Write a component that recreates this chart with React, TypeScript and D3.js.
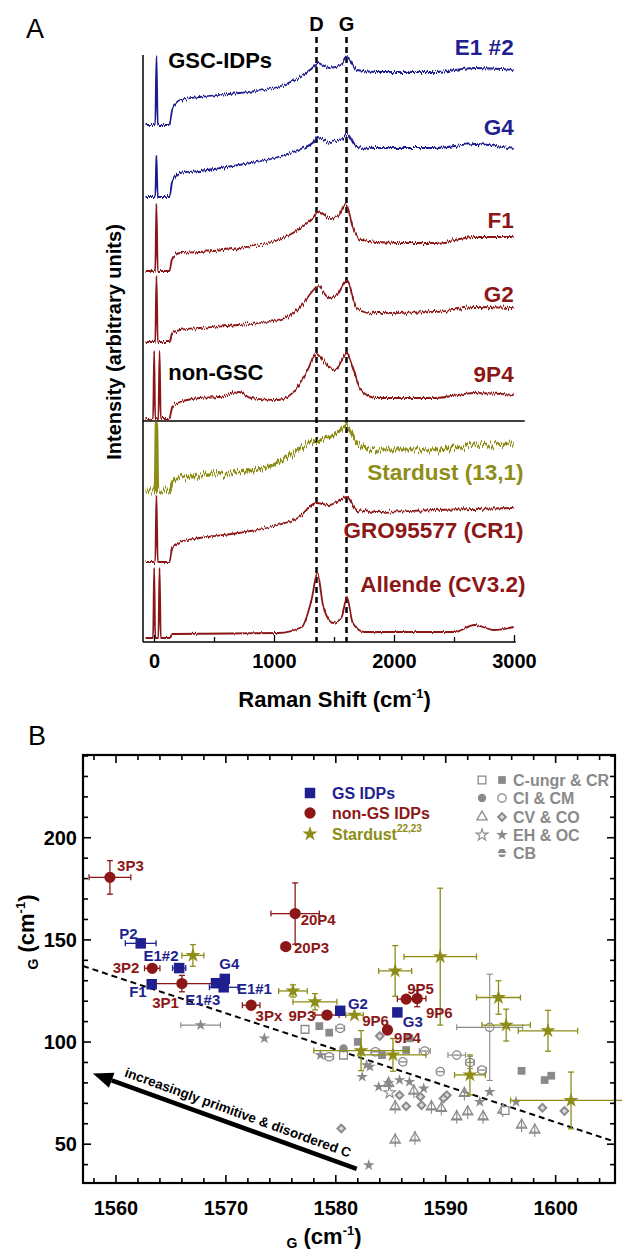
import React from "react";
import * as d3 from "d3";

const BLUE = "#1f1f8f";
const RED = "#8c1717";
const OLIVE = "#8d8d17";
const GRAY = "#8a8a8a";
const FONT = "'Liberation Sans', Arial, Helvetica, sans-serif";

// ---------- panel A: Raman spectra, [shift cm-1, intensity above own baseline] ----------
const specE1n2 = [[-75,0],[6,0],[16,69],[27,0],[125,0],[147,15],[213,25],[376,28],[703,32],[1030,38],[1194,47],[1325,58],[1358,62],[1456,57],[1554,60],[1603,68],[1685,55],[1848,53],[2339,53],[2666,57],[2993,55]];
const specG4 = [[-75,0],[6,0],[16,41],[27,0],[125,0],[147,15],[213,24],[376,26],[703,32],[1030,40],[1194,47],[1325,55],[1358,60],[1456,55],[1554,57],[1603,63],[1685,50],[1848,49],[2339,49],[2666,53],[2993,48]];
const specF1 = [[-75,0],[6,0],[16,67],[27,0],[125,0],[147,13],[213,18],[376,19],[703,23],[1030,31],[1194,41],[1325,54],[1358,59],[1456,53],[1521,54],[1595,67],[1652,44],[1717,31],[2012,28],[2339,28],[2666,34],[2993,34]];
const specG2 = [[-75,0],[6,0],[16,66],[27,0],[125,0],[147,9],[213,12],[376,14],[703,17],[1030,22],[1194,32],[1325,52],[1358,56],[1456,44],[1521,47],[1603,61],[1685,34],[1848,29],[2339,30],[2666,35],[2993,34]];
const spec9P4 = [[-75,0],[-12,0],[-3,67],[6,0],[32,0],[42,67],[52,0],[125,0],[147,12],[213,17],[376,21],[540,22],[703,27],[801,21],[1030,19],[1194,32],[1276,49],[1348,66],[1423,56],[1505,49],[1603,66],[1652,52],[1717,29],[1848,21],[2339,21],[2666,26],[2993,24]];
const specStardust = [[-75,0],[6,0],[16,69],[27,0],[125,0],[147,8],[213,13],[376,16],[703,19],[1030,28],[1194,41],[1358,51],[1521,58],[1595,66],[1685,48],[1848,41],[2339,41],[2666,46],[2993,48]];
const specGRO = [[-75,0],[6,0],[16,67],[27,0],[125,0],[147,14],[213,20],[376,24],[703,29],[1030,37],[1194,44],[1348,59],[1456,57],[1603,65],[1685,52],[1848,50],[2339,52],[2993,54]];
const specAllende = [[-75,0],[-12,0],[-3,70],[6,0],[32,0],[42,70],[52,0],[125,0],[147,4],[1030,5],[1227,11],[1308,38],[1358,65],[1407,31],[1488,15],[1560,21],[1603,41],[1652,15],[1750,6],[2502,6],[2666,13],[2830,8],[2993,11]];

const spectra = [specE1n2, specG4, specF1, specG2, spec9P4, specStardust, specGRO, specAllende];
const specNames = ["E1 #2", "G4", "F1", "G2", "9P4", "Stardust (13,1)", "GRO95577 (CR1)", "Allende (CV3.2)"];
const specOffsets = [517, 445, 371, 300, 223, 151, 80, 4];
const specLabelLevels = [587, 507, 414, 340, 260, 162, 104, 50];
const specLabelShift = [2993, 2993, 2993, 2993, 2993, 3075, 3075, 3091];
const specColors = [BLUE, BLUE, RED, RED, RED, OLIVE, RED, RED];
const specNoise = ["n", "n", "n", "n", "n", "big", "n", "small"];

const shiftTickLabels = [0, 1000, 2000, 3000];
const shiftMinorTicks = [500, 1500, 2500];
const bandNames = ["D", "G"];
const bandPositions = [1350, 1600];

// ---------- panel B: peak parameters [G position, G width] ----------
const gsIdps = [
  { id: "P2", g: 1562.25, w: 148.3, xe: 1.4, ye: 0 },
  { id: "E1#2", g: 1565.75, w: 136.2, xe: 0.6, ye: 0 },
  { id: "F1", g: 1563.25, w: 128.3, xe: 0, ye: 0 },
  { id: "E1#3", g: 1569.1, w: 128.8, xe: 0, ye: 0 },
  { id: "G4", g: 1569.9, w: 130.9, xe: 0, ye: 0 },
  { id: "E1#1", g: 1569.8, w: 126.8, xe: 1.3, ye: 0 },
  { id: "G2", g: 1580.4, w: 115.3, xe: 0, ye: 0 },
  { id: "G3", g: 1585.6, w: 114.5, xe: 0, ye: 0 },
];
const nonGsIdps = [
  { id: "3P3", g: 1559.45, w: 180.6, xe: 1.9, ye: 8.2 },
  { id: "3P2", g: 1563.3, w: 136.1, xe: 0.7, ye: 0 },
  { id: "3P1", g: 1566.0, w: 128.6, xe: 2.95, ye: 4 },
  { id: "3Px", g: 1572.3, w: 118.0, xe: 0.8, ye: 0 },
  { id: "9P3", g: 1579.2, w: 113.2, xe: 1.1, ye: 0 },
  { id: "20P4", g: 1576.3, w: 162.9, xe: 2.2, ye: 15 },
  { id: "20P3", g: 1575.45, w: 146.7, xe: 0.4, ye: 0 },
  { id: "9P5", g: 1586.4, w: 121.0, xe: 0.8, ye: 0 },
  { id: "9P6", g: 1587.4, w: 121.3, xe: 0.8, ye: 4 },
  { id: "9P4", g: 1584.7, w: 105.9, xe: 0.3, ye: 0 },
];
const stardust = [
  { g: 1567.0, w: 142.4, xe: 1.0, ye: 5.3 },
  { g: 1576.1, w: 125.0, xe: 1.3, ye: 3 },
  { g: 1578.1, w: 119.7, xe: 2.0, ye: 4 },
  { g: 1581.7, w: 113.2, xe: 0.8, ye: 0 },
  { g: 1585.4, w: 134.8, xe: 1.5, ye: 12.4 },
  { g: 1589.5, w: 141.8, xe: 3.3, ye: 33.5 },
  { g: 1582.3, w: 95.8, xe: 4.3, ye: 9.8 },
  { g: 1585.2, w: 93.7, xe: 3.0, ye: 8 },
  { g: 1594.8, w: 121.8, xe: 2.0, ye: 8.2 },
  { g: 1595.5, w: 108.3, xe: 2.2, ye: 7.8 },
  { g: 1599.3, w: 105.5, xe: 2.7, ye: 10 },
  { g: 1592.2, w: 83.9, xe: 1.4, ye: 9.8 },
  { g: 1601.4, w: 71.4, xe: 5.5, ye: 13.9 },
];
// point labels: [text, G, width] at the text's left baseline
const gsLabels = [["P2", 1560.3, 150.2], ["E1#2", 1562.5, 139.5], ["F1", 1561.2, 122.0], ["E1#3", 1566.3, 118.0], ["G4", 1569.4, 135.6], ["E1#1", 1571.0, 123.5], ["G2", 1581.1, 116.0], ["G3", 1586.1, 107.3]];
const nonGsLabels = [["3P3", 1560.1, 183.9], ["3P2", 1559.7, 133.7], ["3P1", 1563.3, 116.6], ["3Px", 1572.7, 110.3], ["9P3", 1575.7, 110.3], ["20P4", 1576.8, 157.1], ["20P3", 1576.2, 143.4], ["9P5", 1586.5, 123.5], ["9P6", 1588.2, 111.7], ["9P6", 1582.4, 107.8], ["9P4", 1585.3, 99.5]];

// meteorite literature data (grey)
const crFilled = [[1578.5,107.8],[1579.4,104.6],[1586.7,101.8],[1586.4,96.1],[1582.0,100.1],[1584.2,93.6],[1596.9,85.9],[1599.0,81.4],[1599.6,83.5]];
const cUngrOpen = [[1577.2,106.2],[1580.7,93.6],[1595.4,66.5]];
const ciFilled = [[1580.7,96.9]];
const cmOpen = [[1580.4,106.7,0.4,0],[1588.1,95.6,0.5,0],[1591.0,93.6,0.8,0],[1592.2,90.0,0.4,3],[1593.3,86.3,0.4,0],[1589.5,85.5,0.3,0],[1579.4,92.8,0.4,0],[1583.6,95.2,0.4,0],[1586.1,90.3,0.3,0],[1594.0,107.2,3.0,26]];
const cvOpen = [[1584.8,79.7],[1585.4,68.3],[1588.7,68.3],[1589.6,67.5],[1591.0,63.4],[1592.0,65.8],[1593.4,63.4],[1591.7,74.8],[1595.2,66.7],[1596.9,59.3],[1598.1,56.9],[1585.4,52.0],[1587.2,53.1],[1587.1,76.0]];
const coHalf = [[1584.0,102.9],[1585.8,74.0],[1587.7,73.2],[1586.4,68.6],[1590.1,74.0],[1589.8,72.4],[1587.8,69.1],[1598.8,67.8],[1600.8,66.2],[1580.5,57.7]];
const ocFilled = [[1567.7,108.3,1.8],[1573.5,101.8,0],[1578.6,93.6,0],[1583.1,88.0,0],[1582.4,83.0,0],[1583.9,78.1,0],[1584.8,80.0,0],[1585.8,81.4,0],[1586.7,80.5,0],[1588.0,77.3,0],[1594.0,75.6,0],[1593.1,70.7,0],[1596.4,70.7,0],[1583.0,39.7,0],[1582.8,88.7,0]];
const ehOpen = [[1584.9,75.2]];

const trendLine = [[1557, 137.2], [1605.4, 51.2]];
const arrowHead = [1557.9, 84.6];
const arrowTail = [1581.9, 37.9];

const gTicks = [1560, 1570, 1580, 1590, 1600];
const wTicks = [50, 100, 150, 200];
const legendIdp = ["GS IDPs", "non-GS IDPs", "Stardust"];
const legendMet = ["C-ungr & CR", "CI & CM", "CV & CO", "EH & OC", "CB"];

const sym = (type: d3.SymbolType, size: number) => d3.symbol().type(type).size(size)() as string;

export default function App() {
  const xA = d3.scaleLinear().domain([-96, 3100]).range([143, 526.5]);
  const yA = d3.scaleLinear().domain([0, 587]).range([642, 55]);
  const xB = d3.scaleLinear().domain([1557, 1605.4]).range([83, 615]);
  const yB = d3.scaleLinear().domain([31, 240.5]).range([1183, 755]);

  const sq = sym(d3.symbolSquare, 110);
  const circ = sym(d3.symbolCircle, 100);
  const star = sym(d3.symbolStar, 70);
  const gSq = sym(d3.symbolSquare, 60);
  const gCirc = sym(d3.symbolCircle, 55);
  const gStar = sym(d3.symbolStar, 42);
  const gTri = sym(d3.symbolTriangle, 45);
  const gDia = sym(d3.symbolSquare, 55);
  const gDiaIn = sym(d3.symbolSquare, 12);

  const errBars = (g: number, w: number, xe: number, ye: number, color: string, key: string, sw = 1.3) => {
    const cx = xB(g), cy = yB(w);
    const out: React.ReactNode[] = [];
    if (xe > 0) {
      const x1 = xB(g - xe), x2 = xB(g + xe);
      out.push(<line key={key + "h"} x1={x1} x2={x2} y1={cy} y2={cy} stroke={color} strokeWidth={sw} />);
      out.push(<line key={key + "hl"} x1={x1} x2={x1} y1={cy - 3} y2={cy + 3} stroke={color} strokeWidth={sw} />);
      out.push(<line key={key + "hr"} x1={x2} x2={x2} y1={cy - 3} y2={cy + 3} stroke={color} strokeWidth={sw} />);
    }
    if (ye > 0) {
      const y1 = yB(w + ye), y2 = yB(w - ye);
      out.push(<line key={key + "v"} x1={cx} x2={cx} y1={y1} y2={y2} stroke={color} strokeWidth={sw} />);
      out.push(<line key={key + "vt"} x1={cx - 3} x2={cx + 3} y1={y1} y2={y1} stroke={color} strokeWidth={sw} />);
      out.push(<line key={key + "vb"} x1={cx - 3} x2={cx + 3} y1={y2} y2={y2} stroke={color} strokeWidth={sw} />);
    }
    return out;
  };

  // arrow geometry
  const hx = xB(arrowHead[0]), hy = yB(arrowHead[1]);
  const tx = xB(arrowTail[0]), ty = yB(arrowTail[1]);
  const len = Math.hypot(tx - hx, ty - hy);
  const ux = (tx - hx) / len, uy = (ty - hy) / len;
  const bx = hx + ux * 20, by = hy + uy * 20;
  const headPath = `M${hx},${hy}L${bx - uy * 8},${by + ux * 8}L${bx + uy * 8},${by - ux * 8}Z`;
  const ang = (Math.atan2(ty - hy, tx - hx) * 180) / Math.PI;
  const txtX = hx + ux * 30 + uy * 8, txtY = hy + uy * 30 - ux * 8;

  const xTicksMinor = d3.range(1558, 1606, 2);
  const yTicksMinor = d3.range(40, 241, 10);

  const hexPath = (d3.line()(d3.range(6).map((i) => [6 * Math.cos((Math.PI / 3) * i), 6 * Math.sin((Math.PI / 3) * i)] as [number, number])) || "") + "Z";

  const noiseFilter = (id: string, scale: number, seed: number) => (
    <filter id={id} filterUnits="userSpaceOnUse" x={0} y={0} width={622} height={720}>
      <feTurbulence type="fractalNoise" baseFrequency="0.9 0.03" numOctaves={2} seed={seed} result="t" />
      <feColorMatrix in="t" type="matrix" values="0 0 0 0 0.5  0 1 0 0 0  0 0 0 0 0  0 0 0 0 1" result="m" />
      <feDisplacementMap in="SourceGraphic" in2="m" scale={scale} xChannelSelector="R" yChannelSelector="G" />
    </filter>
  );

  return (
    <div style={{ position: "absolute", left: 0, top: 0 }}>
      <svg width={622} height={1251} style={{ display: "block" }} fontFamily={FONT}>
        <defs>
          {noiseFilter("n", 6, 2)}
          {noiseFilter("big", 14, 5)}
          {noiseFilter("small", 3, 7)}
        </defs>
        <rect width={622} height={1251} fill="#fff" />
        {/* ---------------- Panel A ---------------- */}
        <text x={26} y={38} fontSize={27}>A</text>
        {bandPositions.map((b, i) => (
          <g key={"band" + i}>
            <line x1={xA(b)} x2={xA(b)} y1={37} y2={yA(0)} stroke="#000" strokeWidth={2.5} strokeDasharray="6,4" />
            <text x={xA(b)} y={31} textAnchor="middle" fontSize={20} fontWeight="bold">{bandNames[i]}</text>
          </g>
        ))}
        <line x1={xA(-96)} x2={xA(-96)} y1={yA(587)} y2={yA(0)} stroke="#000" strokeWidth={1.5} />
        <line x1={xA(-96)} x2={xA(3010)} y1={yA(0)} y2={yA(0)} stroke="#000" strokeWidth={1.5} />
        <line x1={xA(-96)} x2={xA(3085)} y1={yA(221)} y2={yA(221)} stroke="#000" strokeWidth={1.3} />
        {spectra.map((s, i) => {
          const off = specOffsets[i];
          const line = d3.line<number[]>().x((d) => xA(d[0])).y((d) => yA(d[1] + off)).curve(d3.curveMonotoneX);
          return (
            <g key={"spec" + i}>
              <path d={line(s) || ""} fill="none" stroke={specColors[i]} strokeWidth={i === 5 ? 3.2 : 1.8} strokeLinejoin="round" filter={`url(#${specNoise[i]})`} />
              <text x={xA(specLabelShift[i])} y={yA(specLabelLevels[i])} textAnchor="end" fontSize={22.5} fontWeight="bold" fill={specColors[i]}>{specNames[i]}</text>
            </g>
          );
        })}
        <text x={xA(114)} y={yA(574)} fontSize={22} fontWeight="bold">GSC-IDPs</text>
        <text x={xA(114)} y={yA(262)} fontSize={22} fontWeight="bold">non-GSC</text>
        {shiftTickLabels.map((t) => (
          <g key={"ta" + t}>
            <line x1={xA(t)} x2={xA(t)} y1={yA(0)} y2={yA(0) - 7} stroke="#000" strokeWidth={1.3} />
            <text x={xA(t)} y={668} textAnchor="middle" fontSize={20} fontWeight="bold">{t}</text>
          </g>
        ))}
        {shiftMinorTicks.map((t) => (
          <line key={"tm" + t} x1={xA(t)} x2={xA(t)} y1={yA(0)} y2={yA(0) - 5} stroke="#000" strokeWidth={1.3} />
        ))}
        <text x={xA(1500)} y={707} textAnchor="middle" fontSize={22} fontWeight="bold">
          Raman Shift (cm<tspan fontSize={13} dy={-9}>-1</tspan><tspan dy={9}>)</tspan>
        </text>
        <text transform="translate(121,342) rotate(-90)" textAnchor="middle" fontSize={20} fontWeight="bold">Intensity (arbitrary units)</text>

        {/* ---------------- Panel B ---------------- */}
        <text x={28} y={745} fontSize={27}>B</text>
        <line x1={xB(trendLine[0][0])} y1={yB(trendLine[0][1])} x2={xB(trendLine[1][0])} y2={yB(trendLine[1][1])} stroke="#000" strokeWidth={2} strokeDasharray="6,4" />

        {/* grey meteorite data */}
        {cmOpen.map((d, i) => (
          <g key={"cm" + i}>
            {errBars(d[0], d[1], d[2], d[3], GRAY, "cme" + i, 1.1)}
            <path d={gCirc} transform={`translate(${xB(d[0])},${yB(d[1])})`} fill="#fff" fillOpacity={0.6} stroke={GRAY} strokeWidth={1.3} />
            <line x1={xB(d[0]) - 3} x2={xB(d[0]) + 3} y1={yB(d[1])} y2={yB(d[1])} stroke={GRAY} strokeWidth={1.2} />
          </g>
        ))}
        {cvOpen.map((d, i) => (
          <g key={"cv" + i}>
            <path d={gTri} transform={`translate(${xB(d[0])},${yB(d[1])})`} fill="#fff" fillOpacity={0.5} stroke={GRAY} strokeWidth={1.3} />
            <line x1={xB(d[0])} x2={xB(d[0])} y1={yB(d[1]) - 7} y2={yB(d[1]) + 7} stroke={GRAY} strokeWidth={1.1} />
            <line x1={xB(d[0]) - 5} x2={xB(d[0]) + 5} y1={yB(d[1]) + 2} y2={yB(d[1]) + 2} stroke={GRAY} strokeWidth={1.1} />
          </g>
        ))}
        {coHalf.map((d, i) => (
          <g key={"co" + i} transform={`translate(${xB(d[0])},${yB(d[1])}) rotate(45)`}>
            <path d={gDia} fill={GRAY} />
            <path d={gDiaIn} fill="#ddd" />
          </g>
        ))}
        {cUngrOpen.map((d, i) => (
          <path key={"cu" + i} d={gSq} transform={`translate(${xB(d[0])},${yB(d[1])})`} fill="#fff" stroke={GRAY} strokeWidth={1.3} />
        ))}
        {crFilled.map((d, i) => (
          <path key={"cr" + i} d={gSq} transform={`translate(${xB(d[0])},${yB(d[1])})`} fill={GRAY} />
        ))}
        {ciFilled.map((d, i) => (
          <path key={"ci" + i} d={gCirc} transform={`translate(${xB(d[0])},${yB(d[1])})`} fill={GRAY} />
        ))}
        {ocFilled.map((d, i) => (
          <g key={"oc" + i}>
            {errBars(d[0], d[1], d[2], 0, GRAY, "oce" + i, 1.1)}
            <path d={gStar} transform={`translate(${xB(d[0])},${yB(d[1])})`} fill={GRAY} />
          </g>
        ))}
        {ehOpen.map((d, i) => (
          <path key={"eh" + i} d={gStar} transform={`translate(${xB(d[0])},${yB(d[1])})`} fill="#fff" stroke={GRAY} strokeWidth={1.1} />
        ))}

        {/* Stardust */}
        {stardust.map((d, i) => (
          <g key={"sd" + i}>
            {errBars(d.g, d.w, d.xe, d.ye, OLIVE, "sde" + i)}
            <path d={star} transform={`translate(${xB(d.g)},${yB(d.w)})`} fill={OLIVE} />
          </g>
        ))}
        {/* non-GS IDPs */}
        {nonGsIdps.map((d, i) => (
          <g key={"ng" + i}>
            {errBars(d.g, d.w, d.xe, d.ye, RED, "nge" + i)}
            <path d={circ} transform={`translate(${xB(d.g)},${yB(d.w)})`} fill={RED} />
          </g>
        ))}
        {/* GS IDPs */}
        {gsIdps.map((d, i) => (
          <g key={"gs" + i}>
            {errBars(d.g, d.w, d.xe, d.ye, BLUE, "gse" + i)}
            <path d={sq} transform={`translate(${xB(d.g)},${yB(d.w)})`} fill={BLUE} />
          </g>
        ))}
        {gsLabels.map((l, i) => (
          <text key={"gl" + i} x={xB(l[1] as number)} y={yB(l[2] as number)} fontSize={15} fontWeight="bold" fill={BLUE}>{l[0]}</text>
        ))}
        {nonGsLabels.map((l, i) => (
          <text key={"nl" + i} x={xB(l[1] as number)} y={yB(l[2] as number)} fontSize={15} fontWeight="bold" fill={RED}>{l[0]}</text>
        ))}

        {/* arrow */}
        <line x1={bx} y1={by} x2={tx} y2={ty} stroke="#000" strokeWidth={4.5} />
        <path d={headPath} fill="#000" />
        <text transform={`translate(${txtX},${txtY}) rotate(${ang})`} fontSize={13.5} fontWeight="bold">increasingly primitive &amp; disordered C</text>

        {/* frame and ticks */}
        <rect x={83} y={755} width={532} height={428} fill="none" stroke="#000" strokeWidth={2.2} />
        {xTicksMinor.map((t) => {
          const major = gTicks.includes(t);
          const l = major ? 8 : 5;
          return (
            <g key={"xt" + t}>
              <line x1={xB(t)} x2={xB(t)} y1={1183} y2={1183 - l} stroke="#000" strokeWidth={1.6} />
              <line x1={xB(t)} x2={xB(t)} y1={755} y2={755 + l} stroke="#000" strokeWidth={1.6} />
            </g>
          );
        })}
        {yTicksMinor.map((t) => {
          const major = wTicks.includes(t);
          const l = major ? 8 : 5;
          return (
            <g key={"yt" + t}>
              <line x1={83} x2={83 + l} y1={yB(t)} y2={yB(t)} stroke="#000" strokeWidth={1.6} />
              <line x1={615} x2={615 - l} y1={yB(t)} y2={yB(t)} stroke="#000" strokeWidth={1.6} />
            </g>
          );
        })}
        {gTicks.map((t) => (
          <text key={"gx" + t} x={xB(t)} y={1215} textAnchor="middle" fontSize={20} fontWeight="bold">{t}</text>
        ))}
        {wTicks.map((t) => (
          <text key={"wy" + t} x={77} y={yB(t) + 7} textAnchor="end" fontSize={20} fontWeight="bold">{t}</text>
        ))}
        <text x={324} y={1244} textAnchor="middle" fontSize={22} fontWeight="bold">
          <tspan fontSize={14} dy={4}>G</tspan><tspan dy={-4}> (cm</tspan><tspan fontSize={13} dy={-9}>-1</tspan><tspan dy={9}>)</tspan>
        </text>
        <text transform="translate(34,932) rotate(-90)" textAnchor="middle" fontSize={22} fontWeight="bold">
          <tspan fontSize={14} dy={4}>G</tspan><tspan dy={-4}> (cm</tspan><tspan fontSize={13} dy={-9}>-1</tspan><tspan dy={9}>)</tspan>
        </text>

        {/* legend: IDPs */}
        <path d={sq} transform="translate(310,793)" fill={BLUE} />
        <path d={circ} transform="translate(310,813)" fill={RED} />
        <path d={star} transform="translate(310,834)" fill={OLIVE} />
        {legendIdp.map((t, i) => (
          <text key={"li" + i} x={332} y={[799, 819, 840][i]} fontSize={16} fontWeight="bold" fill={[BLUE, RED, OLIVE][i]}>
            {t}{i === 2 ? <tspan fontSize={10} dy={-8}>22,23</tspan> : null}
          </text>
        ))}
        {/* legend: meteorites */}
        <path d={gSq} transform="translate(482,780)" fill="#fff" stroke={GRAY} strokeWidth={1.3} />
        <path d={gSq} transform="translate(502,780)" fill={GRAY} />
        <path d={gCirc} transform="translate(482,798)" fill={GRAY} />
        <path d={gCirc} transform="translate(502,798)" fill="#fff" stroke={GRAY} strokeWidth={1.3} />
        <path d={gTri} transform="translate(482,817)" fill="#fff" stroke={GRAY} strokeWidth={1.3} />
        <g transform="translate(502,817) rotate(45)"><path d={gDia} fill={GRAY} /><path d={gDiaIn} fill="#ddd" /></g>
        <path d={gStar} transform="translate(482,835)" fill="#fff" stroke={GRAY} strokeWidth={1.1} />
        <path d={gStar} transform="translate(502,835)" fill={GRAY} />
        <g transform="translate(502,853) scale(0.75)">
          <path d={hexPath} fill={GRAY} />
          <line x1={-6} x2={6} y1={1} y2={1} stroke="#fff" strokeWidth={2} />
        </g>
        {legendMet.map((t, i) => (
          <text key={"lm" + i} x={513} y={[786, 804, 823, 841, 859][i]} fontSize={16} fontWeight="bold" fill={GRAY}>{t}</text>
        ))}
      </svg>
    </div>
  );
}
